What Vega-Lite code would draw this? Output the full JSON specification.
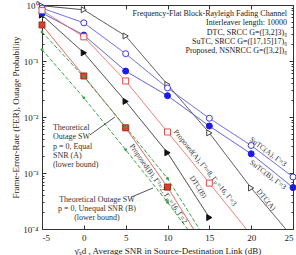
{
  "$schema": "https://vega.github.io/schema/vega-lite/v6.json",
  "width": 251,
  "height": 224,
  "autosize": {"type": "none"},
  "padding": {"left": 42, "top": 5, "right": 3, "bottom": 26},
  "background": "white",
  "config": {
    "view": {"stroke": "#333333", "strokeWidth": 1},
    "font": "Liberation Serif",
    "axis": {"labelFont": "Liberation Serif", "titleFont": "Liberation Serif", "labelColor": "#222222", "titleColor": "#222222", "tickColor": "#333333", "domain": false, "grid": false, "titleFontWeight": "normal"}
  },
  "datasets": {
    "curves": [
      {"s": "DTCA", "x": -5, "y": 0.97}, {"s": "DTCA", "x": 0, "y": 0.82}, {"s": "DTCA", "x": 5, "y": 0.28}, {"s": "DTCA", "x": 10, "y": 0.038}, {"s": "DTCA", "x": 15, "y": 0.0052}, {"s": "DTCA", "x": 20, "y": 0.00054}, {"s": "DTCA", "x": 25, "y": 0.00007},
      {"s": "DTCB", "x": -5, "y": 0.66}, {"s": "DTCB", "x": 0, "y": 0.14}, {"s": "DTCB", "x": 5, "y": 0.019}, {"s": "DTCB", "x": 10, "y": 0.0023}, {"s": "DTCB", "x": 15, "y": 0.00016},
      {"s": "SuTCA", "x": -5, "y": 0.88}, {"s": "SuTCA", "x": 0, "y": 0.48}, {"s": "SuTCA", "x": 5, "y": 0.135}, {"s": "SuTCA", "x": 10, "y": 0.033}, {"s": "SuTCA", "x": 15, "y": 0.0095}, {"s": "SuTCA", "x": 20, "y": 0.0031}, {"s": "SuTCA", "x": 25, "y": 0.00085},
      {"s": "SuTCB", "x": -5, "y": 0.72}, {"s": "SuTCB", "x": 0, "y": 0.29}, {"s": "SuTCB", "x": 5, "y": 0.066}, {"s": "SuTCB", "x": 10, "y": 0.024}, {"s": "SuTCB", "x": 15, "y": 0.0069}, {"s": "SuTCB", "x": 20, "y": 0.0022}, {"s": "SuTCB", "x": 25, "y": 0.00055},
      {"s": "PropA", "x": -5, "y": 0.8}, {"s": "PropA", "x": 0, "y": 0.27}, {"s": "PropA", "x": 5, "y": 0.044}, {"s": "PropA", "x": 10, "y": 0.0054}, {"s": "PropA", "x": 15, "y": 0.00066}, {"s": "PropA", "x": 20, "y": 0.000078},
      {"s": "PropB", "x": -5, "y": 0.44}, {"s": "PropB", "x": 0, "y": 0.054}, {"s": "PropB", "x": 5, "y": 0.0064}, {"s": "PropB", "x": 10, "y": 0.00056}, {"s": "PropB", "x": 15, "y": 0.000035},
      {"s": "TheoA", "x": -5, "y": 0.33}, {"s": "TheoA", "x": 0, "y": 0.052}, {"s": "TheoA", "x": 5, "y": 0.0066}, {"s": "TheoA", "x": 10, "y": 0.0008}, {"s": "TheoA", "x": 15, "y": 0.000052},
      {"s": "TheoB", "x": -5, "y": 0.16}, {"s": "TheoB", "x": 0, "y": 0.022}, {"s": "TheoB", "x": 5, "y": 0.0026}, {"s": "TheoB", "x": 10, "y": 0.0003}, {"s": "TheoB", "x": 15, "y": 0.00003}
    ],
    "legendText": [
      {"x": 24.28, "y": 0.69, "t": "Frequency-Flat Block-Rayleigh Fading Channel"},
      {"x": 24.28, "y": 0.477, "t": "Interleaver length: 10000"},
      {"x": 24.28, "y": 0.316, "t": "DTC, SRCC G=([3,2]3)₈"},
      {"x": 24.28, "y": 0.218, "t": "SuTC, SRCC G=([17,15]17)₈"},
      {"x": 24.28, "y": 0.151, "t": "Proposed, NSNRCC G=([3,2])₈"}
    ],
    "notesA": [
      {"x": -3.69, "y": 0.00637, "t": "Theoretical"},
      {"x": -3.69, "y": 0.0044, "t": "Outage SW"},
      {"x": -3.69, "y": 0.00295, "t": "p = 0, Equal"},
      {"x": -3.69, "y": 0.00201, "t": "SNR (A)"},
      {"x": -3.69, "y": 0.00139, "t": "(lower bound)"}
    ],
    "notesB": [
      {"x": 1.57, "y": 0.00033, "t": "Theoretical Outage SW"},
      {"x": 1.57, "y": 0.000225, "t": "p = 0, Unequal SNR (B)"},
      {"x": 1.57, "y": 0.000155, "t": "(lower bound)"}
    ],
    "links": [
      {"x": 0.74, "y": 0.0048, "x2": 3.72, "y2": 0.01},
      {"x": 5.64, "y": 0.00037, "x2": 8.27, "y2": 0.00054}
    ],
    "curveLabels": [
      {"x": 22.0, "y": 0.00237, "t": "SuTC(A), Γ=3", "a": 37},
      {"x": 22.0, "y": 0.00092, "t": "SuTC(B), Γ=3", "a": 37},
      {"x": 21.77, "y": 0.00033, "t": "DTC(A)", "a": 50},
      {"x": 13.64, "y": 0.00056, "t": "DTC(B)", "a": 57},
      {"x": 14.48, "y": 0.00123, "t": "Proposed(A), Γ²=8, Γₚ=16, Γ=3", "a": 51},
      {"x": 8.9, "y": 0.00064, "t": "Proposed(B), Γ²=2, Γₚ=16, Γ=2", "a": 55}
    ]
  },
  "resolve": {"axis": {"x": "independent", "y": "independent"}},
  "layer": [
    {
      "data": {"name": "curves"},
      "mark": {"type": "line", "clip": true, "strokeWidth": 1},
      "encoding": {
        "x": {"field": "x", "type": "quantitative", "scale": {"domain": [-5, 25], "nice": false, "zero": false},
          "axis": {"orient": "bottom", "values": [-5, 0, 5, 10, 15, 20, 25], "tickSize": -4, "labelPadding": 8, "labelFontSize": 9, "labelExpr": "replace(datum.label, '−', '-')",
            "title": "γ̄ₛd , Average SNR in Source-Destination Link (dB)", "titleFontSize": 9, "titleY": 21, "titleBaseline": "middle"}},
        "y": {"field": "y", "type": "quantitative", "scale": {"type": "log", "domain": [0.0001, 1], "nice": false},
          "axis": {"orient": "left", "values": [0.0001, 0.0002, 0.0003, 0.0004, 0.0005, 0.0006, 0.0007, 0.0008, 0.0009, 0.001, 0.002, 0.003, 0.004, 0.005, 0.006, 0.007, 0.008, 0.009, 0.01, 0.02, 0.03, 0.04, 0.05, 0.06, 0.07, 0.08, 0.09, 0.1, 0.2, 0.3, 0.4, 0.5, 0.6, 0.7, 0.8, 0.9, 1],
            "tickSize": {"condition": {"test": "datum.value == 1 || datum.value == 0.1 || datum.value == 0.01 || datum.value == 0.001 || datum.value == 0.0001", "value": -4}, "value": -2},
            "labelPadding": 8, "labelFontSize": 9,
            "labelExpr": "datum.value == 1 ? '10⁰' : datum.value == 0.1 ? '10⁻¹' : datum.value == 0.01 ? '10⁻²' : datum.value == 0.001 ? '10⁻³' : datum.value == 0.0001 ? '10⁻⁴' : ''",
            "title": "Frame-Error-Rate (FER), Outage Probability", "titleFontSize": 9, "titleX": -27, "titleY": 112, "titleBaseline": "middle", "titleAngle": -90}},
        "color": {"field": "s", "type": "nominal", "legend": null,
          "scale": {"domain": ["DTCA", "DTCB", "SuTCA", "SuTCB", "PropA", "PropB", "TheoA", "TheoB"],
            "range": ["#444444", "#333333", "#5a5ad6", "#4a4ad0", "#ec6a6a", "#d9534a", "#3f9f4a", "#3f9f4a"]}},
        "strokeDash": {"field": "s", "type": "nominal", "legend": null,
          "scale": {"domain": ["DTCA", "DTCB", "SuTCA", "SuTCB", "PropA", "PropB", "TheoA", "TheoB"],
            "range": [[1, 0], [1, 0], [1, 0], [1, 0], [1, 0], [1, 0], [4, 2], [4, 2]]}}
      }
    },
    {
      "data": {"name": "curves"},
      "transform": [{"filter": "datum.y >= 0.0001 && datum.s != 'TheoA' && datum.s != 'TheoB'"}],
      "mark": {"type": "point", "filled": true, "size": 36, "strokeWidth": 1, "opacity": 1},
      "encoding": {
        "x": {"field": "x", "type": "quantitative",
          "axis": {"orient": "top", "values": [-5, 0, 5, 10, 15, 20, 25], "tickSize": -4, "labels": false, "title": null}},
        "y": {"field": "y", "type": "quantitative",
          "axis": {"orient": "right", "values": [0.0001, 0.0002, 0.0003, 0.0004, 0.0005, 0.0006, 0.0007, 0.0008, 0.0009, 0.001, 0.002, 0.003, 0.004, 0.005, 0.006, 0.007, 0.008, 0.009, 0.01, 0.02, 0.03, 0.04, 0.05, 0.06, 0.07, 0.08, 0.09, 0.1, 0.2, 0.3, 0.4, 0.5, 0.6, 0.7, 0.8, 0.9, 1],
            "tickSize": {"condition": {"test": "datum.value == 1 || datum.value == 0.1 || datum.value == 0.01 || datum.value == 0.001 || datum.value == 0.0001", "value": -4}, "value": -2},
            "labels": false, "title": null}},
        "shape": {"field": "s", "type": "nominal", "legend": null,
          "scale": {"domain": ["DTCA", "DTCB", "SuTCA", "SuTCB", "PropA", "PropB"],
            "range": ["triangle-right", "triangle-right", "circle", "circle", "square", "square"]}},
        "fill": {"field": "s", "type": "nominal", "legend": null,
          "scale": {"domain": ["DTCA", "DTCB", "SuTCA", "SuTCB", "PropA", "PropB"],
            "range": ["#ffffff", "#111111", "#ffffff", "#1c1ce0", "#ffffff", "#d8402c"]}},
        "stroke": {"field": "s", "type": "nominal", "legend": null,
          "scale": {"domain": ["DTCA", "DTCB", "SuTCA", "SuTCB", "PropA", "PropB"],
            "range": ["#444444", "#111111", "#3a3ad0", "#1c1ce0", "#e84a4a", "#a0301e"]}}
      }
    },
    {
      "data": {"name": "curves"},
      "transform": [{"filter": "datum.y >= 0.0001 && (datum.s == 'TheoA' || datum.s == 'TheoB')"}],
      "mark": {"type": "circle", "size": 8, "color": "#3f9f4a", "opacity": 1},
      "encoding": {
        "x": {"field": "x", "type": "quantitative", "axis": null},
        "y": {"field": "y", "type": "quantitative", "axis": null}
      }
    },
    {
      "data": {"name": "links"},
      "mark": {"type": "rule", "color": "#555555", "strokeWidth": 1},
      "encoding": {
        "x": {"field": "x", "type": "quantitative", "axis": null},
        "y": {"field": "y", "type": "quantitative", "axis": null},
        "x2": {"field": "x2"},
        "y2": {"field": "y2"}
      }
    },
    {
      "data": {"name": "legendText"},
      "mark": {"type": "text", "align": "right", "baseline": "middle", "fontSize": 8, "color": "#222222", "font": "Liberation Serif"},
      "encoding": {
        "x": {"field": "x", "type": "quantitative", "axis": null},
        "y": {"field": "y", "type": "quantitative", "axis": null},
        "text": {"field": "t"}
      }
    },
    {
      "data": {"name": "notesA"},
      "mark": {"type": "text", "align": "left", "baseline": "middle", "fontSize": 8, "color": "#333333", "font": "Liberation Serif"},
      "encoding": {
        "x": {"field": "x", "type": "quantitative", "axis": null},
        "y": {"field": "y", "type": "quantitative", "axis": null},
        "text": {"field": "t"}
      }
    },
    {
      "data": {"name": "notesB"},
      "mark": {"type": "text", "align": "center", "baseline": "middle", "fontSize": 8, "color": "#333333", "font": "Liberation Serif"},
      "encoding": {
        "x": {"field": "x", "type": "quantitative", "axis": null},
        "y": {"field": "y", "type": "quantitative", "axis": null},
        "text": {"field": "t"}
      }
    },
    {
      "data": {"name": "curveLabels"},
      "mark": {"type": "text", "align": "center", "baseline": "middle", "fontSize": 7.5, "color": "#333333", "font": "Liberation Serif"},
      "encoding": {
        "x": {"field": "x", "type": "quantitative", "axis": null},
        "y": {"field": "y", "type": "quantitative", "axis": null},
        "text": {"field": "t"},
        "angle": {"field": "a", "type": "quantitative", "scale": null}
      }
    }
  ]
}
